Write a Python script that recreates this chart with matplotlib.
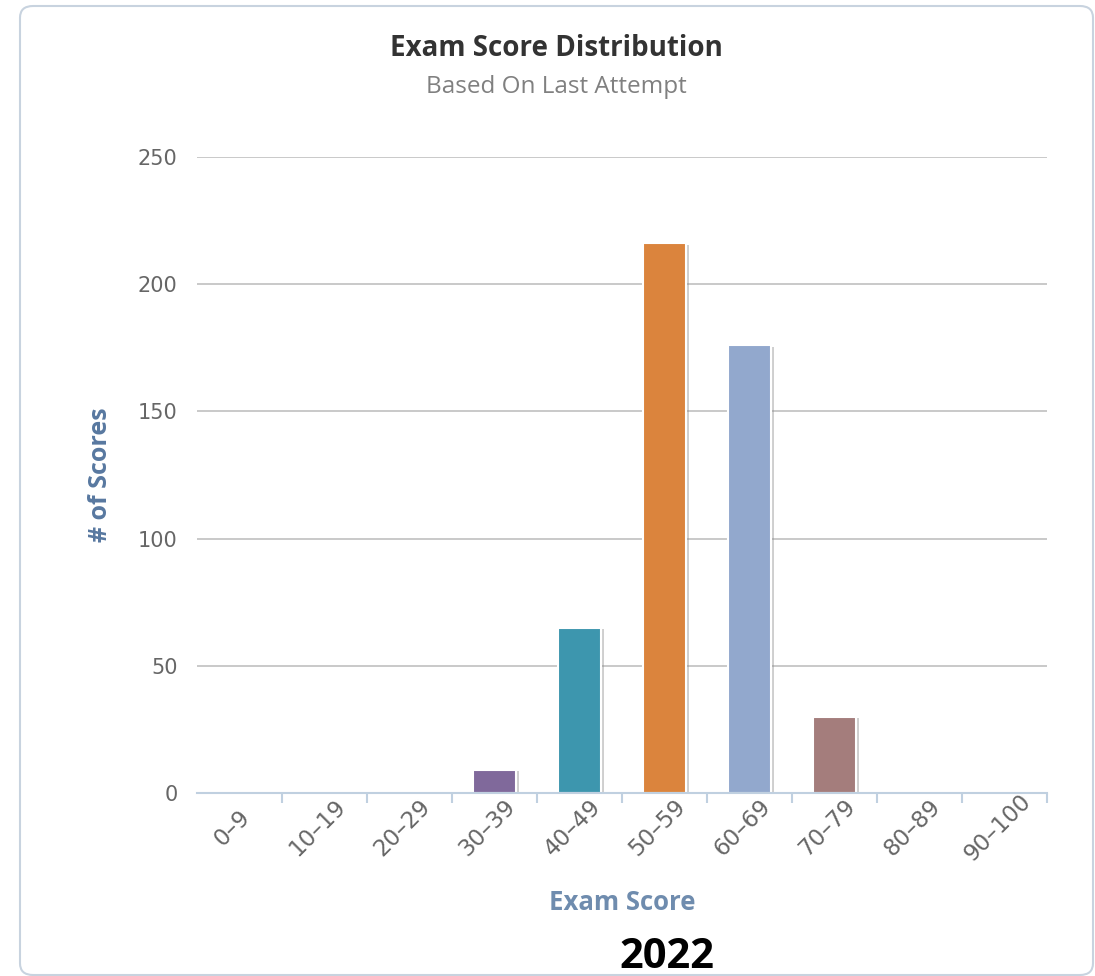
import matplotlib
matplotlib.use("Agg")
import matplotlib.pyplot as plt
import matplotlib.patheffects as pe
from matplotlib.patches import FancyBboxPatch
from matplotlib.transforms import ScaledTranslation

categories = ["0–9", "10–19", "20–29", "30–39", "40–49", "50–59", "60–69", "70–79", "80–89", "90–100"]
values = [0, 0, 0, 9, 65, 216, 176, 30, 0, 0]
colors = ["#4572A7", "#AA4643", "#89A54E", "#80699B", "#3D96AE", "#DB843D", "#92A8CD", "#A47D7C", "#B5CA92", "#4572A7"]
yticks = [0, 50, 100, 150, 200, 250]

plt.rcParams['font.family'] = ['Open Sans', 'DejaVu Sans']

W, H = 1095, 976
fig = plt.figure(figsize=(W / 100, H / 100), dpi=100)
fig.patch.set_facecolor("white")

# outer rounded border
border = FancyBboxPatch((20 / W, 1 - 975 / H), (1093 - 20) / W, (975 - 6) / H,
                        boxstyle="round,pad=0,rounding_size=0.012",
                        transform=fig.transFigure, facecolor="none",
                        edgecolor="#C8D3DF", linewidth=1.5, zorder=-1)
fig.patches.append(border)

left, right, top, bottom = 197, 1047, 157, 793
ax = fig.add_axes([left / W, 1 - bottom / H, (right - left) / W, (bottom - top) / H])
ax.set_facecolor("none")

x = list(range(len(categories)))
bars = ax.bar(x, values, width=0.5, color=colors, edgecolor="white", linewidth=1.5, zorder=3)
for b in bars:
    b.set_path_effects([pe.SimplePatchShadow(offset=(2.5, -1), shadow_rgbFace="#888888", alpha=0.4),
                        pe.Normal()])

ax.set_xlim(-0.5, len(categories) - 0.5)
ax.set_ylim(0, 250)
ax.set_yticks(yticks)
ax.set_yticklabels([str(v) for v in yticks])
ax.yaxis.grid(True, color="#C0C0C0", linewidth=1.2)
ax.set_axisbelow(True)
ax.tick_params(axis="y", length=0, pad=14, labelsize=15, labelcolor="#666666")

for s in ["top", "right", "left"]:
    ax.spines[s].set_visible(False)
ax.spines["bottom"].set_color("#C0D0E0")
ax.spines["bottom"].set_linewidth(1.5)
ax.spines["bottom"].set_zorder(4)

ax.set_xticks(x)
ax.set_xticklabels(categories, rotation=45, ha="center", va="center", rotation_mode="anchor")
ax.tick_params(axis="x", which="major", length=0, pad=25, labelsize=16.5, labelcolor="#666666")
ax.set_xticks([i - 0.5 for i in range(1, len(categories) + 1)], minor=True)
ax.tick_params(axis="x", which="minor", length=7, width=1.5, color="#C0D0E0")
for lab in ax.get_xticklabels():
    lab.set_fontfamily("DejaVu Sans")
    lab.set_transform(lab.get_transform() + ScaledTranslation(-7 / 100, 0, fig.dpi_scale_trans))
for lab in ax.get_yticklabels():
    lab.set_fontfamily("DejaVu Sans")

ax.set_ylabel("# of Scores", fontsize=18, fontweight="bold", color="#5878A0")
ax.yaxis.set_label_coords(-0.099, 0.5)

fig.text(622 / W, 1 - 903 / H, "Exam Score", ha="center", va="center",
         fontsize=18.5, fontweight="bold", color="#6F8CAE")
fig.text(556 / W, 1 - 48 / H, "Exam Score Distribution", ha="center", va="center",
         fontsize=20, fontweight="bold", color="#333333")
fig.text(556 / W, 1 - 87 / H, "Based On Last Attempt", ha="center", va="center",
         fontsize=17.5, color="#808080")
fig.text(667 / W, 1 - 957 / H, "2022", ha="center", va="center",
         fontsize=30, fontweight="bold", color="black")

fig.savefig("out.png", dpi=100, facecolor="white")
